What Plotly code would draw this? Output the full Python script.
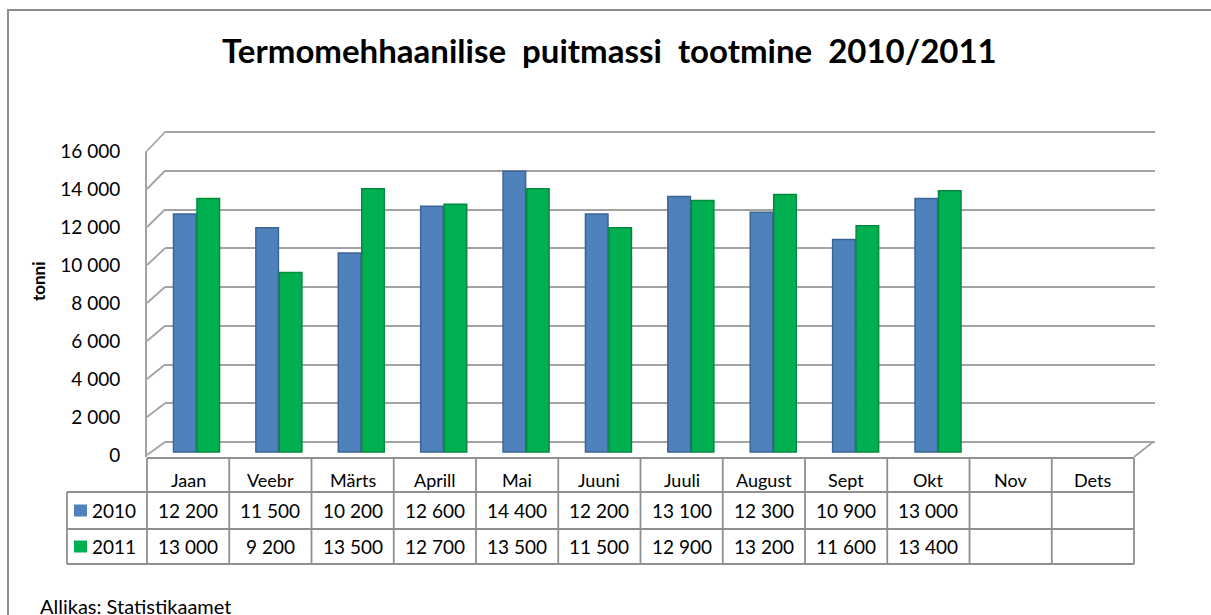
import plotly.graph_objects as go

# ---------------- data ----------------
months = ["Jaan", "Veebr", "Märts", "Aprill", "Mai", "Juuni", "Juuli",
          "August", "Sept", "Okt", "Nov", "Dets"]
series_names = ["2010", "2011"]
values_2010 = [12200, 11500, 10200, 12600, 14400, 12200, 13100, 12300, 10900, 13000, None, None]
values_2011 = [13000, 9200, 13500, 12700, 13500, 11500, 12900, 13200, 11600, 13400, None, None]
y_ticks = [0, 2000, 4000, 6000, 8000, 10000, 12000, 14000, 16000]
title_text = "Termomehhaanilise&nbsp; puitmassi&nbsp; tootmine&nbsp; 2010/2011"
y_title = "tonni"
source_text = "Allikas: Statistikaamet"

# ---------------- style ----------------
W, H = 1211, 615
FONT = "Lato"
C2010, C2010_EDGE = "#4F81BD", "#3A6595"
C2011, C2011_EDGE = "#00B050", "#008A3E"
GRID = "#a3a3a3"
TABLE_LINE = "#8f8f8f"


def PX(x):
    return x / W


def PY(y):
    return 1 - y / H


# pixel geometry of the pseudo-3D frame
BACK_L, BACK_R = 165, 1155          # back wall horizontal extent
FRONT_L, FRONT_R = 147, 1134        # front plane / table extent
BAR_L, BAR_R = 155.3, 1144          # bar band (middle depth)
PLOT_T, PLOT_B = 125, 462
BACK_ZERO, BACK_SCALE = 442, 310 / 16000
BAR_ZERO, BAR_SCALE = 452, 0.0195
FRONT_ZERO, FRONT_SCALE = 455, 0.019


def back_y(v):
    return BACK_ZERO - v * BACK_SCALE


def front_y(v):
    return FRONT_ZERO - v * FRONT_SCALE


n = len(months)
col_w = (FRONT_R - FRONT_L) / n

fig = go.Figure()

# subplot A : back wall gridlines
fig.add_trace(go.Scatter(x=[None], y=[None], xaxis="x", yaxis="y",
                         showlegend=False, hoverinfo="skip"))

# subplot B : bars
idx = list(range(n))
fig.add_trace(go.Bar(x=idx, y=values_2010, name=series_names[0], xaxis="x2", yaxis="y2",
                     marker=dict(color=C2010, line=dict(color=C2010_EDGE, width=1.5)),
                     showlegend=False))
fig.add_trace(go.Bar(x=idx, y=values_2011, name=series_names[1], xaxis="x2", yaxis="y2",
                     marker=dict(color=C2011, line=dict(color=C2011_EDGE, width=1.5)),
                     showlegend=False))

# subplot C : front axis labels
fig.add_trace(go.Scatter(x=[None], y=[None], xaxis="x3", yaxis="y3",
                         showlegend=False, hoverinfo="skip"))

layout = dict(
    width=W, height=H, autosize=False,
    margin=dict(l=0, r=0, t=0, b=0, pad=0, autoexpand=False),
    paper_bgcolor="white", plot_bgcolor="rgba(0,0,0,0)",
    separators=". ",
    font=dict(family=FONT, size=19, color="black"),
    barmode="group", bargap=0.43, bargroupgap=0.04,
    xaxis=dict(domain=[PX(BACK_L), PX(BACK_R)], range=[0, 1], visible=False,
               fixedrange=True),
    yaxis=dict(domain=[PY(PLOT_B), PY(PLOT_T)],
               range=[(BACK_ZERO - PLOT_B) / BACK_SCALE, (BACK_ZERO - PLOT_T) / BACK_SCALE],
               tickmode="array", tickvals=y_ticks, showticklabels=False,
               showgrid=True, gridcolor=GRID, gridwidth=1.8, zeroline=False,
               showline=False, ticks=""),
    xaxis2=dict(domain=[PX(BAR_L), PX(BAR_R)], range=[-0.5, n - 0.5], visible=False,
                anchor="y2"),
    yaxis2=dict(domain=[PY(PLOT_B), PY(PLOT_T)],
                range=[(BAR_ZERO - PLOT_B) / BAR_SCALE, (BAR_ZERO - PLOT_T) / BAR_SCALE],
                visible=False, anchor="x2"),
    xaxis3=dict(domain=[PX(FRONT_L), PX(FRONT_R)], range=[0, 1], visible=False,
                anchor="y3"),
    yaxis3=dict(domain=[PY(457), PY(151)],
                range=[(FRONT_ZERO - 457) / FRONT_SCALE, (FRONT_ZERO - 151) / FRONT_SCALE],
                anchor="x3", tickmode="array", tickvals=y_ticks, tickformat=",d",
                showgrid=False, zeroline=False, showline=True, linecolor=GRID,
                linewidth=1.8, ticks="", ticklabelstandoff=21,
                tickfont=dict(family=FONT, size=19, color="black")),
)
fig.update_layout(**layout)

shapes = []
# outer chart border (right / bottom lie outside the picture)
shapes.append(dict(type="rect", xref="paper", yref="paper",
                   x0=PX(8), x1=PX(W + 10), y0=PY(H + 10), y1=PY(10),
                   line=dict(color="#8c8c8c", width=2)))
# side-wall diagonals at every tick
for v in y_ticks:
    shapes.append(dict(type="line", xref="paper", yref="paper",
                       x0=PX(FRONT_L), y0=PY(front_y(v)), x1=PX(BACK_L), y1=PY(back_y(v)),
                       line=dict(color=GRID, width=1.8)))
# floor right diagonal
shapes.append(dict(type="line", xref="paper", yref="paper",
                   x0=PX(FRONT_R), y0=PY(457), x1=PX(BACK_R - 2), y1=PY(back_y(0)),
                   line=dict(color=GRID, width=1.8)))

# data table geometry
ROW_TOP, ROW_H1, ROW_2010, ROW_2011 = 458, 492, 529, 564
LEG_L = 67
tl = dict(color=TABLE_LINE, width=1.8)
shapes.append(dict(type="line", xref="paper", yref="paper",
                   x0=PX(FRONT_L), x1=PX(FRONT_R), y0=PY(ROW_TOP), y1=PY(ROW_TOP), line=tl))
for yy in (ROW_H1, ROW_2010, ROW_2011):
    shapes.append(dict(type="line", xref="paper", yref="paper",
                       x0=PX(LEG_L), x1=PX(FRONT_R), y0=PY(yy), y1=PY(yy), line=tl))
for k in range(n + 1):
    xx = FRONT_L + k * col_w
    shapes.append(dict(type="line", xref="paper", yref="paper",
                       x0=PX(xx), x1=PX(xx), y0=PY(ROW_TOP), y1=PY(ROW_2011), line=tl))
shapes.append(dict(type="line", xref="paper", yref="paper",
                   x0=PX(LEG_L), x1=PX(LEG_L), y0=PY(ROW_H1), y1=PY(ROW_2011), line=tl))

annotations = []
row_centers = [(ROW_H1 + ROW_2010) / 2, (ROW_2010 + ROW_2011) / 2]
for r, (name, col) in enumerate(zip(series_names, [C2010, C2011])):
    yc = row_centers[r]
    shapes.append(dict(type="rect", xref="paper", yref="paper",
                       x0=PX(74), x1=PX(87), y0=PY(yc + 6), y1=PY(yc - 6),
                       fillcolor=col, line=dict(width=0)))
    annotations.append(dict(xref="paper", yref="paper", x=PX(90), y=PY(yc),
                            xanchor="left", yanchor="middle", showarrow=False,
                            text=name, font=dict(family=FONT, size=19, color="black")))

for i, m in enumerate(months):
    xc = FRONT_L + (i + 0.5) * col_w
    annotations.append(dict(xref="paper", yref="paper", x=PX(xc), y=PY(480),
                            xanchor="center", yanchor="middle", showarrow=False,
                            text=m, font=dict(family=FONT, size=18, color="black")))
    for r, vals in enumerate([values_2010, values_2011]):
        v = vals[i]
        if v is None:
            continue
        annotations.append(dict(xref="paper", yref="paper", x=PX(xc), y=PY(row_centers[r]),
                                xanchor="center", yanchor="middle", showarrow=False,
                                text=f"{v:,}".replace(",", " "),
                                font=dict(family=FONT, size=19, color="black")))

# title, axis title, source
annotations.append(dict(xref="paper", yref="paper", x=PX(609), y=PY(50),
                        xanchor="center", yanchor="middle", showarrow=False,
                        text=f"<b>{title_text}</b>",
                        font=dict(family=FONT, size=33, color="black")))
annotations.append(dict(xref="paper", yref="paper", x=PX(38), y=PY(281),
                        xanchor="center", yanchor="middle", showarrow=False, textangle=-90,
                        text=f"<b>{y_title}</b>",
                        font=dict(family=FONT, size=17, color="black")))
annotations.append(dict(xref="paper", yref="paper", x=PX(38), y=PY(606),
                        xanchor="left", yanchor="middle", showarrow=False,
                        text=source_text, font=dict(family=FONT, size=20, color="black")))

fig.update_layout(shapes=shapes, annotations=annotations)
fig.write_html("out.html",
               config={"displayModeBar": False},
               post_script="document.body.style.margin='0px';"
                           "document.body.style.overflow='hidden';")
